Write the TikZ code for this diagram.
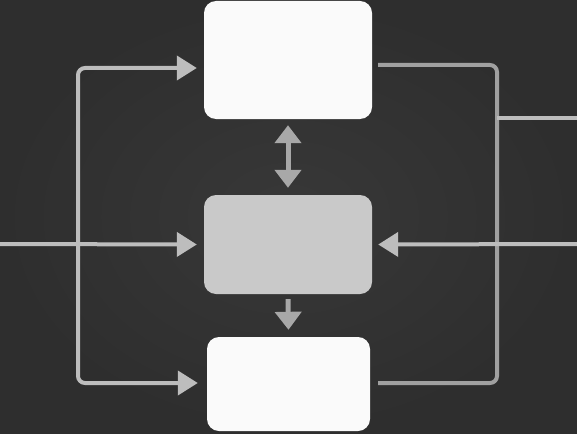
\documentclass[tikz,border=0pt]{standalone}
\usetikzlibrary{arrows.meta, positioning, calc}

\definecolor{bgdark}{RGB}{46,46,46}
\definecolor{bglight}{RGB}{56,56,56}
\definecolor{paper}{RGB}{250,250,250}
\definecolor{midgray}{RGB}{201,201,201}
\definecolor{wiregray}{RGB}{189,189,189}
\definecolor{loopgray}{RGB}{160,160,160}
\definecolor{stemgray}{RGB}{168,168,168}

\begin{document}
\begin{tikzpicture}[
    x=1pt, y=-1pt,
    every node/.style={rounded corners=12pt, inner sep=0pt, minimum width=168pt},
    link/.style={line width=4pt, draw=wiregray, rounded corners=7pt},
    arrow/.style={link, -{Triangle[length=20pt, width=24pt]}},
    loop wire/.style={link, draw=loopgray},
    stem arrow/.style={line width=5pt, draw=stemgray, -{Triangle[length=18pt, width=26pt]}},
    both arrow/.style={stem arrow, {Triangle[length=18pt, width=26pt]}-{Triangle[length=18pt, width=26pt]}}]

% background
\shade[inner color=bglight, outer color=bgdark] (0,0) rectangle (577,433);
\useasboundingbox (0,0) rectangle (577,433);

% boxes
\node[fill=paper, minimum height=118pt] (upper) at (288,60) {};
\node[fill=midgray, minimum height=99pt] (core) at (288,244.5) {};
\node[fill=paper, minimum width=163pt, minimum height=94pt] (lower) at (288.5,384) {};

% junctions and free ends
\coordinate (inL) at (0,244);
\coordinate (spine) at (78,244);
\coordinate (inR) at (577,244);
\coordinate (railbot) at (497,383);
\coordinate (tap) at (497,118);
\coordinate (outR) at (577,118);

% left side
\draw[arrow] (inL) -- ($(core.west)+(-7,0)$);
\draw[arrow] (spine) |- ($(upper.west)+(-7,8)$);
\draw[arrow] (spine) |- ($(lower.west)+(-9,-1)$);

% right side
\draw[loop wire] ($(upper.east)+(6,5)$) -| (railbot) -- ($(lower.east)+(8,-1)$);
\draw[link] (tap) -- (outR);
\draw[arrow] (inR) -- ($(core.east)+(6,0)$);

% middle column
\draw[both arrow] ($(upper.south)+(0,6)$) -- ($(core.north)+(0,-7)$);
\draw[stem arrow] ($(core.south)+(0,5)$) -- ($(lower.north)+(0,-7)$);

\end{tikzpicture}
\end{document}
